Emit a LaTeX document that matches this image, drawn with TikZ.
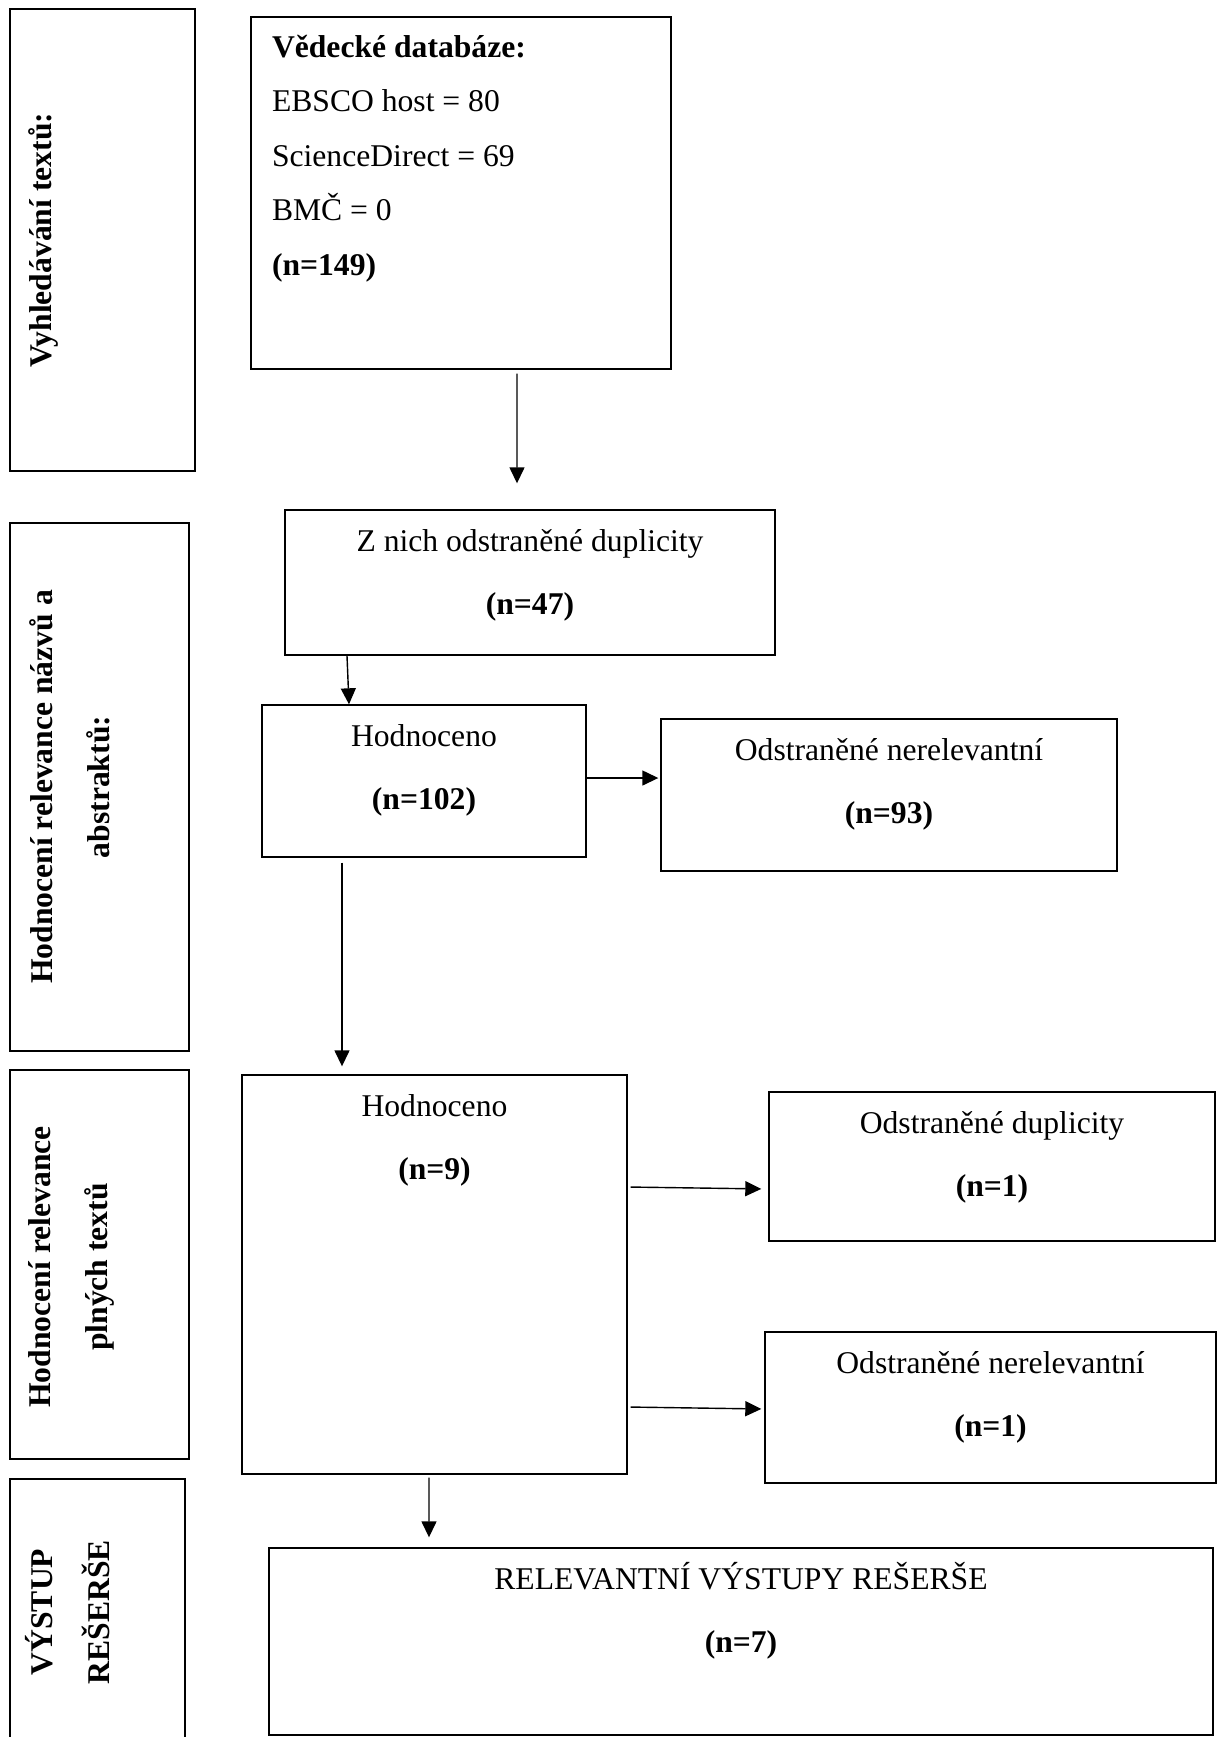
\documentclass[tikz,border=0pt]{standalone}
\usepackage{fontspec}
\setmainfont{Liberation Serif}
\usetikzlibrary{arrows.meta}

\begin{document}
\begin{tikzpicture}[line width = 0.8pt,
                        box/.style = {draw, rectangle, inner sep = 0pt},
                        txt/.style = {font = \fontsize{18}{31}\selectfont, align = center, inner sep = 0pt, anchor = base},
                        side/.style = {font = \fontsize{18}{32.4}\selectfont\bfseries, align = center, inner sep = 0pt, rotate = 90},
                        arr/.style = {-{Triangle[length = 0.32cm, width = 0.30cm]}}]
      \clip (0, 0) rectangle (24.46, -34.74);
      % stages on the left
      \node [box, minimum width = 3.70cm, minimum height = 9.24cm] (vyhl) at (2.05, -4.80){};
      \node [box, minimum width = 3.58cm, minimum height = 10.56cm] (abst) at (1.99, -15.74){};
      \node [box, minimum width = 3.58cm, minimum height = 7.78cm] (plne) at (1.99, -25.29){};
      \node [box, minimum width = 3.50cm, minimum height = 5.62cm] (vyst) at (1.95, -32.39){};
      \node [side] (vyhlt) at (0.86, -4.80){Vyhledávání textů:};
      \node [side] (abstt) at (1.40, -15.74){Hodnocení relevance názvů a\\abstraktů:};
      \node [side] (plnet) at (1.42, -25.34){Hodnocení relevance\\plných textů};
      \node [side] (vystt) at (1.35, -32.24){VÝSTUP\\REŠERŠE};
      % boxes
      \node [box, minimum width = 8.40cm, minimum height = 7.04cm] (db) at (9.22, -3.86){};
      \node [box, minimum width = 9.80cm, minimum height = 2.90cm] (dup) at (10.60, -11.65){};
      \node [box, minimum width = 6.48cm, minimum height = 3.04cm] (hod1) at (8.48, -15.62){};
      \node [box, minimum width = 9.12cm, minimum height = 3.04cm] (nerel1) at (17.78, -15.90){};
      \node [box, minimum width = 7.70cm, minimum height = 7.98cm] (hod2) at (8.69, -25.49){};
      \node [box, minimum width = 8.92cm, minimum height = 2.98cm] (dup2) at (19.84, -23.33){};
      \node [box, minimum width = 9.02cm, minimum height = 3.02cm] (nerel2) at (19.81, -28.15){};
      \node [box, minimum width = 18.88cm, minimum height = 3.74cm] (vysl) at (14.82, -32.83){};
      \node [txt, align = left, anchor = base west] (dbt) at ([xshift = 0.42cm, yshift = -5.18cm]db.north west)
        {\textbf{Vědecké databáze:}\\EBSCO host = 80\\ScienceDirect = 69\\BMČ = 0\\\textbf{(n=149)}};
      \node [txt] (dupt) at ([yshift = -2.10cm]dup.north){Z nich odstraněné duplicity\\[5pt]\textbf{(n=47)}};
      \node [txt] (hod1t) at ([yshift = -2.10cm]hod1.north){Hodnoceno\\[5pt]\textbf{(n=102)}};
      \node [txt] (nerel1t) at ([yshift = -2.10cm]nerel1.north){Odstraněné nerelevantní\\[5pt]\textbf{(n=93)}};
      \node [txt] (hod2t) at ([yshift = -2.10cm]hod2.north){Hodnoceno\\[5pt]\textbf{(n=9)}};
      \node [txt] (dup2t) at ([yshift = -2.10cm]dup2.north){Odstraněné duplicity\\[5pt]\textbf{(n=1)}};
      \node [txt] (nerel2t) at ([yshift = -2.10cm]nerel2.north){Odstraněné nerelevantní\\[5pt]\textbf{(n=1)}};
      \node [txt] (vyslt) at ([yshift = -2.10cm]vysl.north){RELEVANTNÍ VÝSTUPY REŠERŠE\\[5pt]\textbf{(n=7)}};
      % arrows
      \draw [arr, shorten <= 0.08cm, shorten >= 0.52cm] ([xshift = 1.12cm]db.south) -- ([xshift = -0.26cm]dup.north);
      \draw [arr] ([xshift = -3.66cm]dup.south) -- ([xshift = -1.50cm]hod1.north);
      \draw [arr, shorten >= 0.04cm] ([yshift = 0.06cm]hod1.east) -- ([yshift = 0.34cm]nerel1.west);
      \draw [arr, shorten <= 0.10cm, shorten >= 0.16cm] ([xshift = -1.64cm]hod1.south) -- ([xshift = -1.85cm]hod2.north);
      \draw [arr, shorten <= 0.06cm, shorten >= 0.14cm] ([yshift = 1.75cm]hod2.east) -- ([yshift = -0.45cm]dup2.west);
      \draw [arr, shorten <= 0.06cm, shorten >= 0.06cm] ([yshift = -2.65cm]hod2.east) -- ([yshift = -0.03cm]nerel2.west);
      \draw [arr, shorten <= 0.06cm, shorten >= 0.20cm] ([xshift = -0.11cm]hod2.south) -- ([xshift = -6.24cm]vysl.north);
    \end{tikzpicture}
\end{document}
